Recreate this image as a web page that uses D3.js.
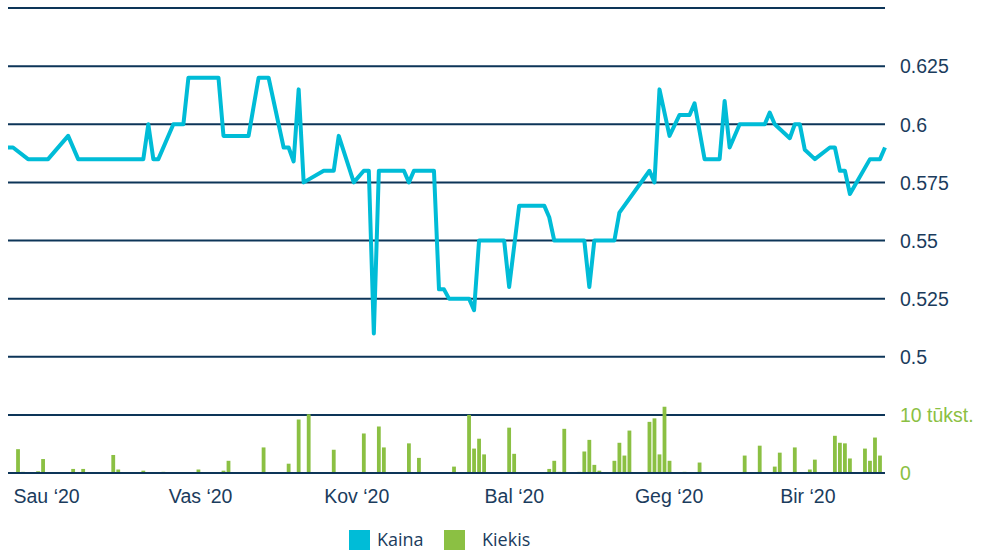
<!DOCTYPE html>
<html>
<head>
<meta charset="utf-8">
<script src="https://cdn.jsdelivr.net/npm/d3@7"></script>
<style>
  body { margin: 0; background: #fff; }
  svg { display: block; }
  .axis path { display: none; }
  .axis text { font-family: "Liberation Sans", Arial, sans-serif; font-size: 19.5px; fill: #1b3c5d; }
  .legend text { font-family: "Open Sans", sans-serif; font-size: 18px; fill: #1b3c5d; }
</style>
</head>
<body>
<div id="chart"></div>
<script>
// Price (Kaina)
let priceDates = ['2020-01-01','2020-01-02','2020-01-05','2020-01-09','2020-01-13','2020-01-15','2020-01-28','2020-01-29',
  '2020-01-30','2020-01-31','2020-02-03','2020-02-05','2020-02-06','2020-02-12','2020-02-13','2020-02-18','2020-02-20',
  '2020-02-22','2020-02-25','2020-02-26','2020-02-27','2020-02-28','2020-02-29','2020-03-04','2020-03-06','2020-03-07',
  '2020-03-10','2020-03-12','2020-03-13','2020-03-14','2020-03-15','2020-03-20','2020-03-21','2020-03-22','2020-03-26',
  '2020-03-27','2020-03-28','2020-03-29','2020-04-02','2020-04-03','2020-04-04','2020-04-09','2020-04-10','2020-04-12',
  '2020-04-17','2020-04-18','2020-04-19','2020-04-25','2020-04-26','2020-04-27','2020-05-01','2020-05-02','2020-05-08',
  '2020-05-09','2020-05-10','2020-05-12','2020-05-14','2020-05-16','2020-05-17','2020-05-19','2020-05-22','2020-05-23',
  '2020-05-24','2020-05-26','2020-05-31','2020-06-01','2020-06-02','2020-06-05','2020-06-06','2020-06-07','2020-06-08',
  '2020-06-10','2020-06-13','2020-06-14','2020-06-15','2020-06-16','2020-06-17','2020-06-21','2020-06-23','2020-06-24'];
let priceValues = [0.59,0.59,0.585,0.585,0.595,0.585,0.585,0.6,
  0.585,0.585,0.6,0.6,0.62,0.62,0.595,0.595,0.62,
  0.62,0.59,0.59,0.584,0.615,0.575,0.58,0.58,0.595,
  0.575,0.58,0.58,0.51,0.58,0.58,0.575,0.58,0.58,
  0.529,0.529,0.525,0.525,0.52,0.55,0.55,0.53,0.565,
  0.565,0.56,0.55,0.55,0.53,0.55,0.55,0.562,0.58,
  0.575,0.615,0.595,0.604,0.604,0.609,0.585,0.585,0.61,
  0.59,0.6,0.6,0.605,0.6,0.594,0.6,0.6,0.589,
  0.585,0.59,0.59,0.58,0.58,0.57,0.585,0.585,0.59];

// Volume (Kiekis), pieces
let volumeDates = ['2020-01-03','2020-01-04','2020-01-07','2020-01-08','2020-01-14','2020-01-16','2020-01-22','2020-01-23',
  '2020-01-28','2020-02-01','2020-02-08','2020-02-13','2020-02-14','2020-02-21','2020-02-26','2020-02-28','2020-03-01',
  '2020-03-06','2020-03-12','2020-03-15','2020-03-16','2020-03-21','2020-03-23','2020-03-30','2020-04-02','2020-04-03',
  '2020-04-04','2020-04-05','2020-04-10','2020-04-11','2020-04-18','2020-04-19','2020-04-20','2020-04-21','2020-04-24',
  '2020-04-25','2020-04-26','2020-04-27','2020-04-28','2020-05-01','2020-05-02','2020-05-03','2020-05-04','2020-05-08',
  '2020-05-09','2020-05-10','2020-05-11','2020-05-12','2020-05-15','2020-05-18','2020-05-27','2020-05-30','2020-06-02',
  '2020-06-03','2020-06-06','2020-06-09','2020-06-10','2020-06-14','2020-06-15','2020-06-16','2020-06-17','2020-06-20',
  '2020-06-21','2020-06-22','2020-06-23'];
let volumeValues = [4100,200,300,2400,700,700,3100,600,
  400,200,600,400,2100,4400,1600,9200,10100,
  4000,6800,8000,4400,5100,2600,1100,10000,4200,
  5900,3200,7800,3300,700,2100,200,7600,200,
  3700,5700,1400,400,2100,5200,3000,7300,8800,
  9400,3200,11400,2100,200,1800,3000,4700,1100,
  3500,4400,600,2300,6400,5200,5100,2500,4200,
  2100,6100,3000];

let priceTicks  = [0.5, 0.525, 0.55, 0.575, 0.6, 0.625];
let gridValues  = [0.45, 0.475, 0.5, 0.525, 0.55, 0.575, 0.6, 0.625, 0.65];
let volumeTicks = [0, 10000];
let volumeTickLabels = ['0', '10 tūkst.'];
let monthTickDates  = ['2020-01-02','2020-02-02','2020-03-04','2020-04-05','2020-05-05','2020-06-03'];
let monthTickLabels = ['Sau ‘20','Vas ‘20','Kov ‘20','Bal ‘20','Geg ‘20','Bir ‘20'];
let seriesNames  = ['Kaina', 'Kiekis'];
let seriesColors = ['#00bcd7', '#8bc043'];

const width = 982, height = 554;
const margin = { top: 8, right: 97, bottom: 81, left: 8 };
const parse = d3.utcParse('%Y-%m-%d');

const svg = d3.select('#chart').append('svg')
  .attr('width', width)
  .attr('height', height);

const x = d3.scaleUtc()
  .domain([parse('2020-01-01'), parse('2020-06-24')])
  .range([margin.left, width - margin.right]);

const yPrice = d3.scaleLinear()
  .domain([0.45, 0.65])
  .range([height - margin.bottom, margin.top]);

const yVol = d3.scaleLinear()
  .domain([0, 10000])
  .range([yPrice(0.45), yPrice(0.475)]);

// grid
svg.append('g')
  .selectAll('line')
  .data(gridValues)
  .join('line')
  .attr('x1', x.range()[0])
  .attr('x2', x.range()[1])
  .attr('y1', d => yPrice(d))
  .attr('y2', d => yPrice(d))
  .attr('stroke', '#0d3558')
  .attr('stroke-width', 2);

// volume bars
const bars = volumeDates.map((d, i) => ({ date: parse(d), value: volumeValues[i] }));
const barW = 3.8;
svg.append('g')
  .selectAll('rect')
  .data(bars)
  .join('rect')
  .attr('x', d => x(d.date) - barW / 2)
  .attr('width', barW)
  .attr('y', d => yVol(d.value))
  .attr('height', d => yVol(0) - yVol(d.value) - 1)
  .attr('fill', seriesColors[1]);

// price line
const prices = priceDates.map((d, i) => ({ date: parse(d), value: priceValues[i] }));
const line = d3.line()
  .x(d => x(d.date))
  .y(d => yPrice(d.value));
svg.append('path')
  .datum(prices)
  .attr('d', line)
  .attr('fill', 'none')
  .attr('stroke', seriesColors[0])
  .attr('stroke-width', 4)
  .attr('stroke-linejoin', 'round');

// right axes
svg.append('g')
  .attr('class', 'axis')
  .attr('transform', `translate(${width - margin.right + 12},0)`)
  .call(d3.axisRight(yPrice).tickValues(priceTicks).tickSize(0).tickFormat(d => String(+d.toFixed(3))))
  .selectAll('text').attr('dy', '0.35em');

svg.append('g')
  .attr('class', 'axis')
  .attr('transform', `translate(${width - margin.right + 12},0)`)
  .call(d3.axisRight(yVol).tickValues(volumeTicks).tickSize(0).tickFormat((d, i) => volumeTickLabels[i]))
  .selectAll('text').attr('dy', '0.35em').style('fill', seriesColors[1]);

// bottom axis
svg.append('g')
  .attr('class', 'axis')
  .attr('transform', `translate(0,${yPrice(0.45) + 13})`)
  .call(d3.axisBottom(x).tickValues(monthTickDates.map(parse)).tickSize(0).tickFormat((d, i) => monthTickLabels[i]))
  .selectAll('text').attr('text-anchor', 'start').attr('dy', '0.71em');

// legend
const legendX = [349, 444];
const legend = svg.append('g').attr('class', 'legend');
const items = legend.selectAll('g')
  .data(seriesNames)
  .join('g')
  .attr('transform', (d, i) => `translate(${legendX[i]},530)`);
items.append('rect')
  .attr('width', 21)
  .attr('height', 20)
  .attr('fill', (d, i) => seriesColors[i]);
items.append('text')
  .attr('x', (d, i) => i == 0 ? 28 : 38)
  .attr('y', 10)
  .attr('dy', '0.35em')
  .text(d => d);
</script>
</body>
</html>
